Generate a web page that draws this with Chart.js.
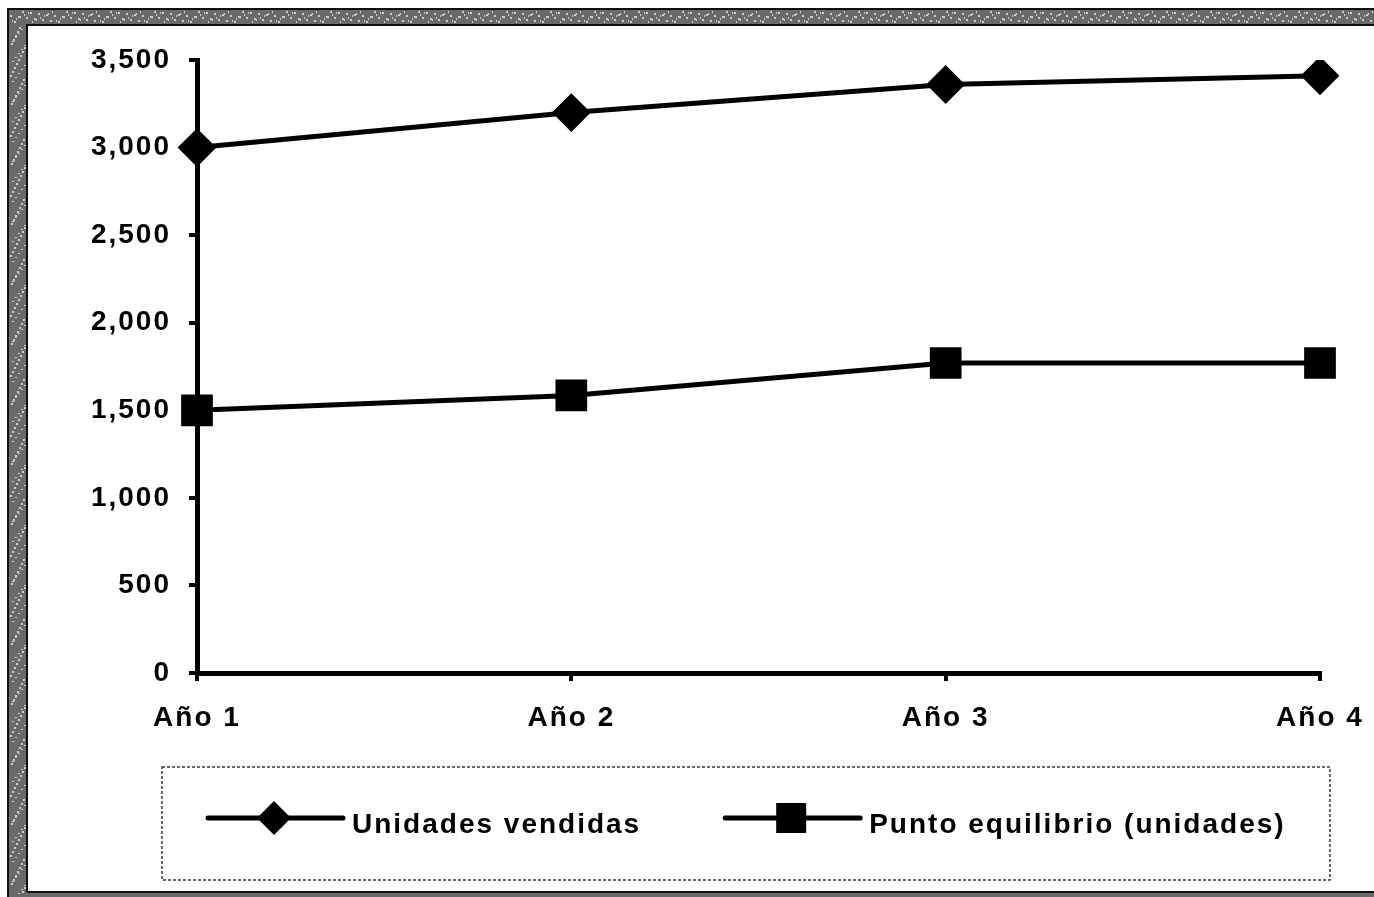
<!DOCTYPE html>
<html lang="es">
<head>
<meta charset="utf-8">
<title>Unidades vendidas y punto de equilibrio</title>
<script src="https://cdn.jsdelivr.net/npm/chart.js@4.4.1/dist/chart.umd.min.js"></script>
<style>
  html, body { margin: 0; padding: 0; background: #fff; overflow: hidden; }
  #wrap { width: 1374px; height: 897px; position: relative; }
  canvas { display: block; }
</style>
</head>
<body>
<div id="wrap"><canvas id="chart" width="1374" height="897"></canvas></div>
<script>
// Categories and series
const categories = ['Año 1', 'Año 2', 'Año 3', 'Año 4'];
const unidadesVendidas = [3000, 3200, 3360, 3410];
const puntoEquilibrio = [1500, 1585, 1770, 1770];
const seriesNames = ['Unidades vendidas', 'Punto equilibrio (unidades)'];

// Value axis range
const yMin = 0;
const yMax = 3500;
const yStep = 500;

const FONT_FAMILY = '"Liberation Sans", Arial, Helvetica, sans-serif';
const INK = '#000000';
const LETTER_SPACING = '2px';

// Slightly wider letter spacing for all chart text
const spacingPlugin = {
  id: 'spacing',
  beforeLayout(chart) { chart.ctx.letterSpacing = LETTER_SPACING; },
  beforeDraw(chart) { chart.ctx.letterSpacing = LETTER_SPACING; }
};

// White page with a dark grey frame on top, left and bottom
const framePlugin = {
  id: 'frame',
  beforeDraw(chart) {
    const { ctx, width, height } = chart;
    ctx.save();
    ctx.fillStyle = '#ffffff';
    ctx.fillRect(0, 0, width, height);
    ctx.fillStyle = '#6a6a6a';
    ctx.fillRect(8, 9, width - 8, 16);         // top band
    ctx.fillRect(8, 9, 19, height - 9);        // left band
    ctx.fillRect(8, height - 5, width - 8, 5); // bottom band
    ctx.fillStyle = '#cfcfcf';
    for (let x = 10; x < width; x += 4) {
      ctx.fillRect(x, 11 + ((x * 7) % 11), 2, 2);
      ctx.fillRect(x + 2, 11 + ((x * 5 + 3) % 11), 1, 2);
    }
    for (let y = 27; y < height - 5; y += 4) {
      ctx.fillRect(10 + ((y * 7) % 15), y, 2, 2);
      ctx.fillRect(10 + ((y * 3 + 5) % 15), y + 2, 2, 1);
    }
    ctx.strokeStyle = '#111111';
    ctx.lineWidth = 2;
    ctx.beginPath();
    ctx.moveTo(27, height - 5);
    ctx.lineTo(27, 25);
    ctx.lineTo(width, 25);
    ctx.moveTo(8, height);
    ctx.lineTo(8, 9);
    ctx.lineTo(width, 9);
    ctx.moveTo(27, height - 5);
    ctx.lineTo(width, height - 5);
    ctx.stroke();
    ctx.restore();
  }
};

function drawMarker(ctx, style, x, y, half) {
  ctx.beginPath();
  if (style === 'rectRot') {
    ctx.moveTo(x - half, y);
    ctx.lineTo(x, y - half);
    ctx.lineTo(x + half, y);
    ctx.lineTo(x, y + half);
  } else {
    ctx.rect(x - half, y - half, half * 2, half * 2);
  }
  ctx.closePath();
  ctx.fill();
}

// Boxed legend under the plot: line sample with marker, then the series name
const legendBoxPlugin = {
  id: 'legendBox',
  afterDraw(chart) {
    const { ctx, chartArea } = chart;
    const left = chartArea.left - 35;
    const right = chartArea.right + 10;
    const top = chartArea.bottom + 94;
    const bottom = chart.height - 17;
    ctx.save();
    ctx.letterSpacing = LETTER_SPACING;
    ctx.strokeStyle = '#3a3a3a';
    ctx.lineWidth = 1.5;
    ctx.setLineDash([3, 2]);
    ctx.strokeRect(left, top, right - left, bottom - top);
    ctx.setLineDash([]);

    const lineY = top + 51;
    const textY = top + 58;
    const sampleLen = 135;
    let x = left + 46;
    ctx.font = 'bold 28px ' + FONT_FAMILY;
    ctx.textBaseline = 'middle';
    ctx.textAlign = 'left';
    chart.data.datasets.forEach((ds) => {
      ctx.strokeStyle = ds.borderColor;
      ctx.lineWidth = ds.borderWidth;
      ctx.lineCap = 'round';
      ctx.beginPath();
      ctx.moveTo(x, lineY);
      ctx.lineTo(x + sampleLen, lineY);
      ctx.stroke();
      ctx.fillStyle = ds.pointBackgroundColor;
      drawMarker(ctx, ds.pointStyle, x + 66, lineY, ds.pointStyle === 'rectRot' ? 17 : 15);
      ctx.fillStyle = INK;
      const tx = x + sampleLen + 9;
      ctx.fillText(ds.label, tx, textY);
      x = tx + ctx.measureText(ds.label).width + 84;
    });
    ctx.restore();
  }
};

const tickFont = { family: FONT_FAMILY, size: 28, weight: 'bold' };

const ctx = document.getElementById('chart').getContext('2d');
new Chart(ctx, {
  type: 'line',
  data: {
    labels: categories,
    datasets: [
      {
        label: seriesNames[0],
        data: unidadesVendidas,
        borderColor: INK,
        backgroundColor: INK,
        borderWidth: 5,
        pointStyle: 'rectRot',
        pointRadius: 18,
        pointHoverRadius: 18,
        pointBackgroundColor: INK,
        pointBorderColor: INK,
        pointBorderWidth: 2,
        tension: 0
      },
      {
        label: seriesNames[1],
        data: puntoEquilibrio,
        borderColor: INK,
        backgroundColor: INK,
        borderWidth: 5,
        pointStyle: 'rect',
        pointRadius: 21,
        pointHoverRadius: 21,
        pointBackgroundColor: INK,
        pointBorderColor: INK,
        pointBorderWidth: 2,
        tension: 0
      }
    ]
  },
  options: {
    responsive: false,
    animation: false,
    devicePixelRatio: 1,
    layout: { padding: { left: 30, right: 54, top: 60, bottom: 0 } },
    plugins: {
      legend: { display: false },
      tooltip: { enabled: false },
      title: { display: false }
    },
    scales: {
      x: {
        type: 'category',
        offset: false,
        afterFit(scale) {
          scale.height = 224;
          scale.paddingLeft = 0;
          scale.paddingRight = 0;
        },
        grid: {
          display: true,
          drawOnChartArea: false,
          drawTicks: true,
          tickLength: 8,
          color: INK,
          lineWidth: 4
        },
        border: { display: true, color: INK, width: 5 },
        ticks: {
          color: INK,
          padding: 20,
          maxRotation: 0,
          autoSkip: false,
          font: tickFont
        }
      },
      y: {
        min: yMin,
        max: yMax,
        afterFit(scale) { scale.width = 167; },
        grid: {
          display: true,
          drawOnChartArea: false,
          drawTicks: true,
          tickLength: 8,
          color: INK,
          lineWidth: 4
        },
        border: { display: true, color: INK, width: 5 },
        ticks: {
          stepSize: yStep,
          color: INK,
          padding: 18,
          font: tickFont,
          callback: (v) => Number(v).toLocaleString('en-US')
        }
      }
    }
  },
  plugins: [spacingPlugin, framePlugin, legendBoxPlugin]
});
</script>
</body>
</html>
